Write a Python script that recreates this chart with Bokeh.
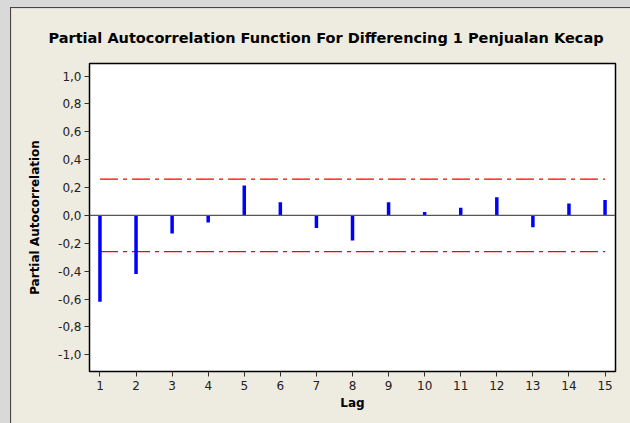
from bokeh.plotting import figure
from bokeh.layouts import column
from bokeh.models import Span, FixedTicker, Title, ColumnDataSource
from bokeh.embed import file_html
from bokeh.resources import INLINE

lags = list(range(1, 16))
pacf = [-0.62, -0.42, -0.13, -0.05, 0.215, 0.095, -0.09, -0.18,
        0.095, 0.025, 0.055, 0.13, -0.085, 0.085, 0.11]
conf_limit = 0.26
y_ticks = [-1.0, -0.8, -0.6, -0.4, -0.2, 0.0, 0.2, 0.4, 0.6, 0.8, 1.0]
y_tick_labels = ["-1,0", "-0,8", "-0,6", "-0,4", "-0,2", "0,0", "0,2", "0,4", "0,6", "0,8", "1,0"]
x_ticks = lags
title_text = "Partial Autocorrelation Function For Differencing 1 Penjualan Kecap"
x_label = "Lag"
y_label = "Partial Autocorrelation"

BG = "#eeebe1"
FONT = "DejaVu Sans"

p = figure(width=620, height=416, output_backend="svg", toolbar_location=None,
           x_range=(0.71, 15.29), y_range=(-1.12, 1.09),
           min_border_left=78, min_border_right=16, min_border_top=55, min_border_bottom=53,
           background_fill_color="white", border_fill_color=BG)
p.margin = (7, 0, 0, 10)
p.styles = {"border-top": "1px solid #444", "border-left": "1px solid #444"}
p.outline_line_color = "black"
p.outline_line_width = 1.5
p.grid.visible = False

t = Title(text=title_text, align="left", offset=-41, standoff=36,
          text_font=FONT, text_font_size="14.5px", text_font_style="bold", text_color="black")
p.add_layout(t, "above")

# axes
p.xaxis.ticker = FixedTicker(ticks=x_ticks)
p.yaxis.ticker = FixedTicker(ticks=y_ticks)
p.yaxis.major_label_overrides = {v: s for v, s in zip(y_ticks, y_tick_labels)}
for ax in (p.xaxis[0], p.yaxis[0]):
    ax.axis_line_color = None
    ax.minor_tick_line_color = None
    ax.major_tick_in = 0
    ax.major_tick_out = 5
    ax.major_tick_line_color = "#333333"
    ax.major_label_text_font = FONT
    ax.major_label_text_font_size = "12px"
    ax.major_label_text_color = "#222222"
    ax.axis_label_text_font = FONT
    ax.axis_label_text_font_size = "12px"
    ax.axis_label_text_font_style = "bold"
    ax.axis_label_text_color = "black"
p.xaxis.axis_label = x_label
p.yaxis.axis_label = y_label
p.xaxis.major_label_standoff = 4
p.xaxis.axis_label_standoff = 3
p.yaxis.major_label_standoff = 3
p.yaxis.axis_label_standoff = 13

# zero line
p.add_layout(Span(location=0, dimension="width", line_color="#555555", line_width=1.2))

# confidence limits
p.line(x=[lags[0], lags[-1]], y=[conf_limit, conf_limit], line_color="#ff0000",
       line_width=1.4, line_dash="18 5 4 5")
p.line(x=[lags[0], lags[-1]], y=[-conf_limit, -conf_limit], line_color="#ff0000",
       line_width=1.4, line_dash="18 5 4 5")

src = ColumnDataSource(dict(x=lags, y0=[0] * len(lags), y1=pacf))
p.segment(x0="x", y0="y0", x1="x", y1="y1", source=src, line_color="#0000ff",
          line_width=3.5, line_cap="butt")

lay = column(p, styles={"background-color": "#d9d9d9"}, width=630, height=423)
open("out.html", "w").write(file_html(lay, INLINE))
